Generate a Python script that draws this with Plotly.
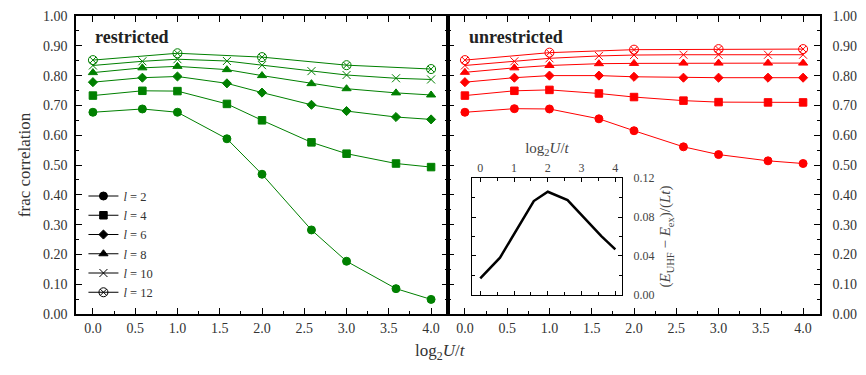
import plotly.graph_objects as go

# x positions (log2 U/t)
log2_u = [0.0, 0.585, 1.0, 1.585, 2.0, 2.585, 3.0, 3.585, 4.0]
log2_u_l12 = [0.0, 1.0, 2.0, 3.0, 4.0]

# restricted (left panel)
res_l2 = [0.677, 0.688, 0.677, 0.588, 0.469, 0.282, 0.177, 0.085, 0.049]
res_l4 = [0.733, 0.749, 0.748, 0.705, 0.650, 0.576, 0.538, 0.505, 0.493]
res_l6 = [0.778, 0.793, 0.797, 0.774, 0.743, 0.702, 0.681, 0.661, 0.653]
res_l8 = [0.810, 0.826, 0.831, 0.820, 0.800, 0.773, 0.756, 0.742, 0.735]
res_l10 = [0.834, 0.848, 0.855, 0.849, 0.835, 0.815, 0.802, 0.791, 0.787]
res_l12 = [0.852, 0.875, 0.862, 0.835, 0.822]

# unrestricted (right panel)
unr_l2 = [0.677, 0.689, 0.688, 0.655, 0.615, 0.561, 0.535, 0.514, 0.505]
unr_l4 = [0.733, 0.749, 0.752, 0.740, 0.728, 0.716, 0.711, 0.710, 0.710]
unr_l6 = [0.778, 0.793, 0.800, 0.800, 0.796, 0.793, 0.793, 0.793, 0.793]
unr_l8 = [0.811, 0.826, 0.834, 0.840, 0.841, 0.842, 0.842, 0.842, 0.842]
unr_l10 = [0.834, 0.848, 0.858, 0.866, 0.869, 0.870, 0.870, 0.870, 0.870]
unr_l12 = [0.852, 0.877, 0.887, 0.889, 0.889]

# inset: energy difference
inset_x = [0.0, 0.585, 1.585, 2.0, 2.585, 3.585, 4.0]
inset_y = [0.0171, 0.0383, 0.0964, 0.106, 0.0974, 0.0605, 0.0468]

labels = ["2", "4", "6", "8", "10", "12"]
symbols = ["circle", "square", "diamond", "triangle-up", "x-thin-open", "circle-x-open"]
msizes = [8, 7.5, 7, 8, 8, 9]

FONT = "Liberation Serif"
GREEN = "#008000"
RED = "#ff0000"

fig = go.Figure()

panels = [
    ("x", "y", GREEN, [res_l2, res_l4, res_l6, res_l8, res_l10, res_l12]),
    ("x2", "y2", RED, [unr_l2, unr_l4, unr_l6, unr_l8, unr_l10, unr_l12]),
]
for xa, ya, col, series in panels:
    for i, ys in enumerate(series):
        xs = log2_u_l12 if i == 5 else log2_u
        fig.add_trace(go.Scatter(
            x=xs, y=ys, xaxis=xa, yaxis=ya, mode="lines+markers",
            line=dict(color=col, width=1),
            marker=dict(symbol=symbols[i], size=msizes[i], color=col,
                        line=dict(color=col, width=1)),
            showlegend=False,
        ))

# legend entries (black)
for i, lab in enumerate(labels):
    fig.add_trace(go.Scatter(
        x=[None], y=[None], xaxis="x", yaxis="y", mode="lines+markers",
        name="<i>l</i> = " + lab,
        line=dict(color="black", width=1),
        marker=dict(symbol=symbols[i], size=msizes[i], color="black",
                    line=dict(color="black", width=1)),
    ))

# inset
fig.add_trace(go.Scatter(
    x=inset_x, y=inset_y, xaxis="x3", yaxis="y3", mode="lines",
    line=dict(color="black", width=2.5), showlegend=False,
))

ax = dict(
    range=[-0.2, 4.2], dtick=0.5, tickformat=".1f", ticks="inside", ticklen=6,
    tickwidth=1, showline=True, linecolor="black", linewidth=1.5, mirror="allticks",
    showgrid=False, zeroline=False, tickfont=dict(family=FONT, size=14, color="#333"),
    minor=dict(dtick=0.25, ticks="inside", ticklen=3, tickcolor="black"),
    tickcolor="black", automargin=False,
)
ay = dict(
    range=[0, 1], dtick=0.1, tickformat=".2f", ticks="inside", ticklen=6,
    tickwidth=1, showline=True, linecolor="black", linewidth=1.5, mirror="allticks",
    showgrid=False, zeroline=False, tickfont=dict(family=FONT, size=14, color="#333"),
    minor=dict(dtick=0.05, ticks="inside", ticklen=3, tickcolor="black"),
    tickcolor="black", ticklabelstandoff=4, automargin=False,
)

fig.update_layout(
    width=866, height=375,
    margin=dict(l=76, r=46, t=16, b=61, autoexpand=False),
    paper_bgcolor="white", plot_bgcolor="white",
    font=dict(family=FONT, size=14, color="#333"),
    xaxis=dict(ax, domain=[0, 0.5], anchor="y"),
    yaxis=dict(ay, domain=[0, 1], anchor="x",
               title=dict(text="frac correlation", font=dict(family=FONT, size=17, color="#333"),
                          standoff=8)),
    xaxis2=dict(ax, domain=[0.5, 1], anchor="y2"),
    yaxis2=dict(ay, domain=[0, 1], anchor="x2", side="right", ticklabelstandoff=8),
    xaxis3=dict(
        domain=[0.532, 0.734], anchor="y3", side="top", range=[-0.25, 4.2], dtick=1,
        ticks="inside", ticklen=4, tickwidth=1, tickcolor="black", showline=True,
        linecolor="black", linewidth=1, mirror="allticks", showgrid=False, zeroline=False,
        tickfont=dict(family=FONT, size=12, color="#444"),
        minor=dict(dtick=0.5, ticks="inside", ticklen=3, tickcolor="black"),
        title=dict(text="log<sub>2</sub><i>U</i>/<i>t</i>", font=dict(family=FONT, size=15, color="#444"),
                   standoff=4),
    ),
    yaxis3=dict(
        domain=[0.064, 0.456], anchor="x3", side="right", range=[0, 0.12], dtick=0.04,
        tickformat=".2f", ticks="inside", ticklen=4, tickwidth=1, tickcolor="black",
        showline=True, linecolor="black", linewidth=1, mirror="allticks", showgrid=False,
        zeroline=False, tickfont=dict(family=FONT, size=12, color="#444"), ticklabelstandoff=8,
        minor=dict(dtick=0.02, ticks="inside", ticklen=3, tickcolor="black"),
        title=dict(text="(<i>E</i><sub>UHF</sub> − <i>E</i><sub>ex</sub>)/(<i>Lt</i>)",
                   font=dict(family=FONT, size=15, color="#444"), standoff=6),
    ),
    legend=dict(x=0.01, y=0.445, xanchor="left", yanchor="top", bgcolor="rgba(0,0,0,0)",
                font=dict(family=FONT, size=12.5, color="#333"), itemwidth=30,
                tracegroupgap=0),
    annotations=[
        dict(text="<b>restricted</b>", x=0.023, y=0.97, xref="paper", yref="paper",
             xanchor="left", yanchor="top", showarrow=False,
             font=dict(family=FONT, size=18, color="#222")),
        dict(text="<b>unrestricted</b>", x=0.525, y=0.97, xref="paper", yref="paper",
             xanchor="left", yanchor="top", showarrow=False,
             font=dict(family=FONT, size=18, color="#222")),
        dict(text="log<sub>2</sub><i>U</i>/<i>t</i>", x=0.49, y=-0.085, xref="paper", yref="paper",
             xanchor="center", yanchor="top", showarrow=False,
             font=dict(family=FONT, size=17, color="#333")),
    ],
)

# drop the default 8px page margin so the figure fills the window exactly
fig.write_html("out.html", config=dict(displayModeBar=False),
               post_script="document.body.style.margin='0';")
